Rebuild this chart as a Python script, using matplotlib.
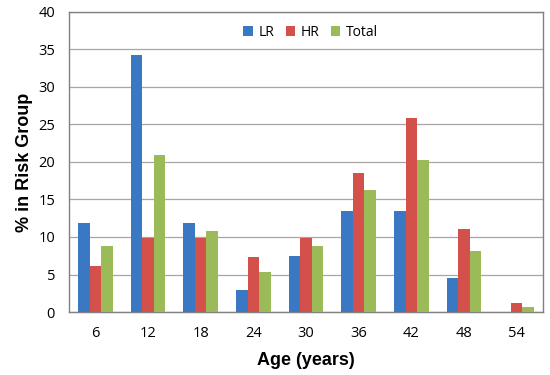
import matplotlib
matplotlib.use("Agg")
import matplotlib.pyplot as plt
import numpy as np

ages = ["6", "12", "18", "24", "30", "36", "42", "48", "54"]
lr = [11.9, 34.3, 11.9, 3.0, 7.5, 13.4, 13.4, 4.5, 0.0]
hr = [6.2, 9.9, 9.9, 7.4, 9.9, 18.5, 25.9, 11.1, 1.2]
total = [8.8, 20.9, 10.8, 5.4, 8.8, 16.2, 20.3, 8.1, 0.7]
yticks = [0, 5, 10, 15, 20, 25, 30, 35, 40]

plt.rcParams['font.family'] = ['Open Sans', 'DejaVu Sans']

fig = plt.figure(figsize=(5.5, 3.75), dpi=100)
ax = fig.add_axes([69/550, 1-312/375, (543-69)/550, 300/375])

x = np.arange(len(ages))
w = 0.22
ax.bar(x - w, lr, w, color='#3A78C4', label='LR', zorder=3)
ax.bar(x, hr, w, color='#D4504A', label='HR', zorder=3)
ax.bar(x + w, total, w, color='#9BBB59', label='Total', zorder=3)

ax.set_xlim(-0.5, len(ages) - 0.5)
ax.set_ylim(0, 40)
ax.set_yticks(yticks)
ax.set_xticks(x)
ax.set_xticklabels(ages)
ax.tick_params(axis='both', labelsize=10.5, length=0)
ax.tick_params(axis='x', pad=10)
ax.tick_params(axis='y', pad=10)
ax.yaxis.grid(True, color='#A6A6A6', linewidth=0.9, zorder=0)
for s in ax.spines.values():
    s.set_color('#808080')
    s.set_linewidth(1.0)

ax.set_ylabel('% in Risk Group', fontsize=13, fontweight='bold', labelpad=4,
              family=['Liberation Sans', 'DejaVu Sans'])
ax.set_xlabel('Age (years)', fontsize=13, fontweight='bold', labelpad=8,
              family=['Liberation Sans', 'DejaVu Sans'])

leg = ax.legend(loc='upper center', bbox_to_anchor=(0.51, 1.0), ncol=3, frameon=False,
                fontsize=10, handlelength=0.7, handleheight=0.7, columnspacing=0.8,
                handletextpad=0.4)

fig.savefig('out.png', dpi=100)
